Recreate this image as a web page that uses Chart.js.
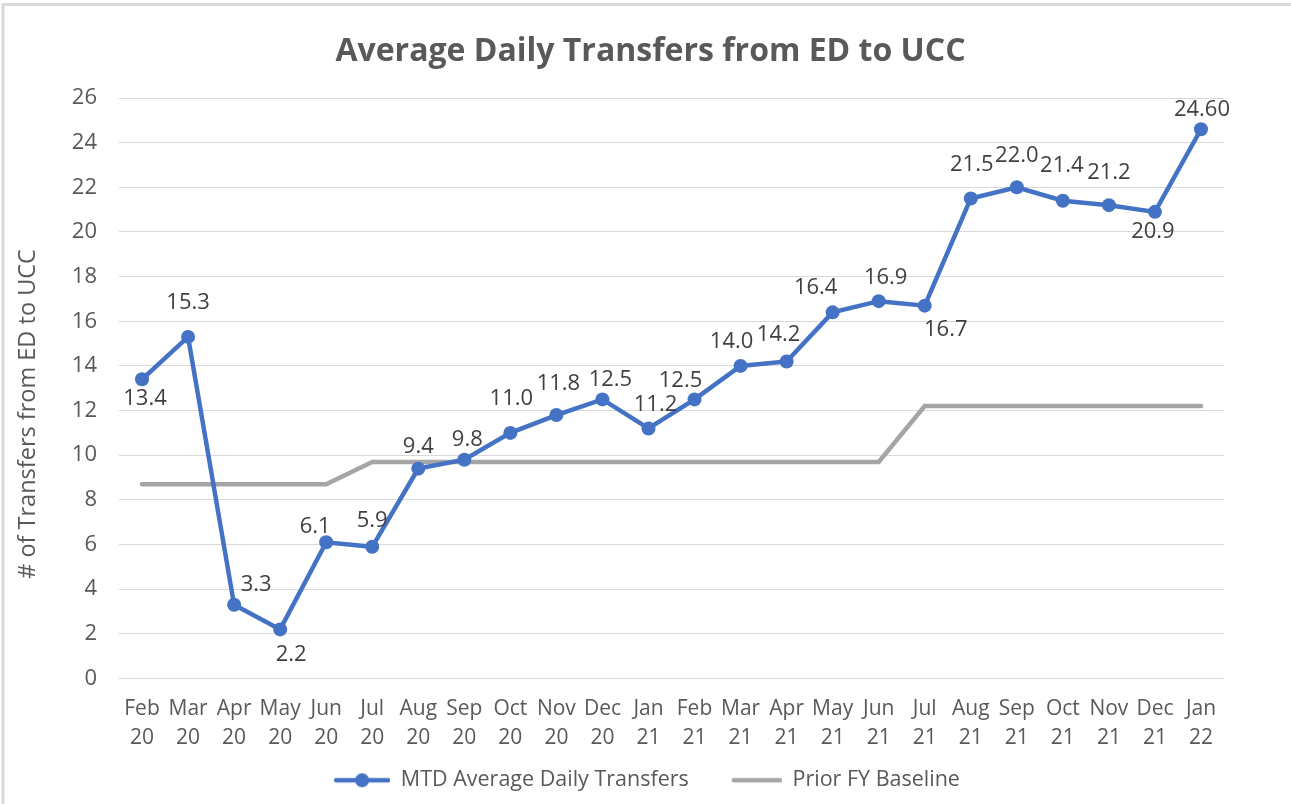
<!DOCTYPE html>
<html>
<head>
<meta charset="utf-8">
<script src="https://cdn.jsdelivr.net/npm/chart.js@4.4.1/dist/chart.umd.min.js"></script>
<style>
html,body{margin:0;padding:0;background:#fff;}
#wrap{position:relative;width:1291px;height:804px;}
</style>
</head>
<body>
<div id="wrap"><canvas id="c" width="1291" height="804"></canvas></div>
<script>
const categories = [
  ['Feb','20'],['Mar','20'],['Apr','20'],['May','20'],['Jun','20'],['Jul','20'],
  ['Aug','20'],['Sep','20'],['Oct','20'],['Nov','20'],['Dec','20'],['Jan','21'],
  ['Feb','21'],['Mar','21'],['Apr','21'],['May','21'],['Jun','21'],['Jul','21'],
  ['Aug','21'],['Sep','21'],['Oct','21'],['Nov','21'],['Dec','21'],['Jan','22']
];
const mtdValues = [13.4, 15.3, 3.3, 2.2, 6.1, 5.9, 9.4, 9.8, 11.0, 11.8, 12.5, 11.2,
                   12.5, 14.0, 14.2, 16.4, 16.9, 16.7, 21.5, 22.0, 21.4, 21.2, 20.9, 24.60];
const mtdLabels = ['13.4','15.3','3.3','2.2','6.1','5.9','9.4','9.8','11.0','11.8','12.5','11.2',
                   '12.5','14.0','14.2','16.4','16.9','16.7','21.5','22.0','21.4','21.2','20.9','24.60'];
const baselineValues = [8.7, 8.7, 8.7, 8.7, 8.7,
                        9.7, 9.7, 9.7, 9.7, 9.7, 9.7, 9.7, 9.7, 9.7, 9.7, 9.7, 9.7,
                        12.2, 12.2, 12.2, 12.2, 12.2, 12.2, 12.2];
const yTicks = [0,2,4,6,8,10,12,14,16,18,20,22,24,26];
const seriesNames = ['MTD Average Daily Transfers', 'Prior FY Baseline'];
const chartTitle = 'Average Daily Transfers from ED to UCC';
const yAxisTitle = '# of Transfers from ED to UCC';

// label placement (pixel offsets from the point), presentation only
const labelOffsets = [[3,19],[0,-34],[22,-20],[11,25],[-11,-16],[0,-26],[0,-22],[3,-20],
  [1,-34],[2,-31],[8,-20],[7,-24],[-14,-19],[-9,-24],[-8,-27],[-17,-25],[7,-23],[21,24],
  [1,-34],[0,-32],[-1,-35],[0,-32],[-2,20],[1,-20]];

const FONT = '"Open Sans", Lato, sans-serif';
const TXT = '#595959';
const BLUE = '#4472C4';
const GRAY = '#A5A5A5';
const SYM_W = 83;

function legendSymbol(color, lineLen, withDot) {
  const W = SYM_W, H = 18;
  const c = document.createElement('canvas');
  c.width = W; c.height = H;
  const g = c.getContext('2d');
  g.strokeStyle = color; g.lineWidth = 4.5; g.lineCap = 'round';
  g.beginPath(); g.moveTo(W - lineLen + 2, H/2); g.lineTo(W - 2, H/2); g.stroke();
  if (withDot) {
    g.fillStyle = color;
    g.beginPath(); g.arc(W - lineLen/2, H/2, 7, 0, Math.PI*2); g.fill();
  }
  return c;
}
const symBlue = legendSymbol(BLUE, 56, true);
const symGray = legendSymbol(GRAY, 50, false);

const framePlugin = {
  id: 'frame',
  beforeDraw(chart) {
    const ctx = chart.ctx;
    ctx.save();
    ctx.fillStyle = '#fff';
    ctx.fillRect(0, 0, chart.width, chart.height);
    ctx.strokeStyle = '#d9d9d9';
    ctx.lineWidth = 3;
    ctx.beginPath();
    ctx.moveTo(3, chart.height); ctx.lineTo(3, 4.5); ctx.lineTo(chart.width, 4.5);
    ctx.stroke();
    ctx.restore();
  }
};

const legendShiftPlugin = {
  id: 'legendShift',
  afterLayout(chart) {
    const lg = chart.legend;
    if (lg) { lg.left -= 17; lg.right -= 17; }
  }
};

const labelPlugin = {
  id: 'pointLabels',
  afterDatasetsDraw(chart) {
    const meta = chart.getDatasetMeta(0);
    const ctx = chart.ctx;
    ctx.save();
    ctx.font = '22px ' + FONT;
    ctx.fillStyle = '#404040';
    ctx.textAlign = 'center';
    ctx.textBaseline = 'middle';
    meta.data.forEach((pt, i) => {
      const o = labelOffsets[i];
      ctx.fillText(mtdLabels[i], pt.x + o[0], pt.y + o[1]);
    });
    ctx.restore();
  }
};

const yTitlePlugin = {
  id: 'yTitle',
  afterDraw(chart) {
    const ctx = chart.ctx;
    ctx.save();
    ctx.translate(28, 414);
    ctx.rotate(-Math.PI/2);
    ctx.font = '23.5px ' + FONT;
    ctx.fillStyle = TXT;
    ctx.textAlign = 'center';
    ctx.textBaseline = 'middle';
    ctx.fillText(yAxisTitle, 0, 0);
    ctx.restore();
  }
};

new Chart(document.getElementById('c'), {
  type: 'line',
  data: {
    labels: categories,
    datasets: [
      {
        label: seriesNames[0],
        data: mtdValues,
        borderColor: BLUE,
        backgroundColor: BLUE,
        borderWidth: 4.5,
        pointRadius: 7,
        pointBackgroundColor: BLUE,
        pointBorderColor: BLUE,
        pointBorderWidth: 0,
        tension: 0,
        order: 0
      },
      {
        label: seriesNames[1],
        data: baselineValues,
        borderColor: GRAY,
        backgroundColor: GRAY,
        borderWidth: 4.5,
        borderCapStyle: 'round',
        pointRadius: 0,
        tension: 0,
        order: 1
      }
    ]
  },
  options: {
    responsive: false,
    animation: false,
    layout: { padding: { left: 10, right: 0, top: 0, bottom: 3 } },
    plugins: {
      title: {
        display: true,
        text: chartTitle,
        color: TXT,
        font: { family: FONT, size: 32, weight: 'bold' },
        padding: { top: 33, bottom: 26.6 }
      },
      legend: {
        position: 'bottom',
        labels: {
          color: TXT,
          font: { family: FONT, size: 21.5 },
          usePointStyle: true,
          pointStyleWidth: SYM_W,
          padding: 10,
          generateLabels(chart) {
            return chart.data.datasets.map((ds, i) => ({
              text: ds.label,
              fillStyle: ds.borderColor,
              strokeStyle: ds.borderColor,
              lineWidth: 0,
              pointStyle: i === 0 ? symBlue : symGray,
              hidden: false,
              datasetIndex: i,
              fontColor: TXT
            }));
          }
        }
      },
      tooltip: { enabled: false }
    },
    scales: {
      x: {
        offset: true,
        grid: { display: false, drawTicks: false },
        border: { display: false },
        ticks: {
          color: TXT,
          font: { family: FONT, size: 21, lineHeight: 1.38 },
          padding: 16,
          maxRotation: 0,
          autoSkip: false
        },
        afterFit(s) { s.height = 81; }
      },
      y: {
        min: 0, max: 26,
        afterBuildTicks(s) { s.ticks = yTicks.map(v => ({ value: v })); },
        grid: { color: '#d9d9d9', lineWidth: 1, drawTicks: false },
        border: { display: false },
        ticks: {
          color: TXT,
          font: { family: FONT, size: 22 },
          padding: 22
        },
        afterFit(s) { s.width = 109; }
      },
      yR: {
        position: 'right',
        min: 0, max: 26,
        grid: { display: false, drawTicks: false },
        border: { display: false },
        ticks: { display: false },
        afterFit(s) { s.width = 67; }
      }
    }
  },
  plugins: [framePlugin, legendShiftPlugin, labelPlugin, yTitlePlugin]
});
</script>
</body>
</html>
